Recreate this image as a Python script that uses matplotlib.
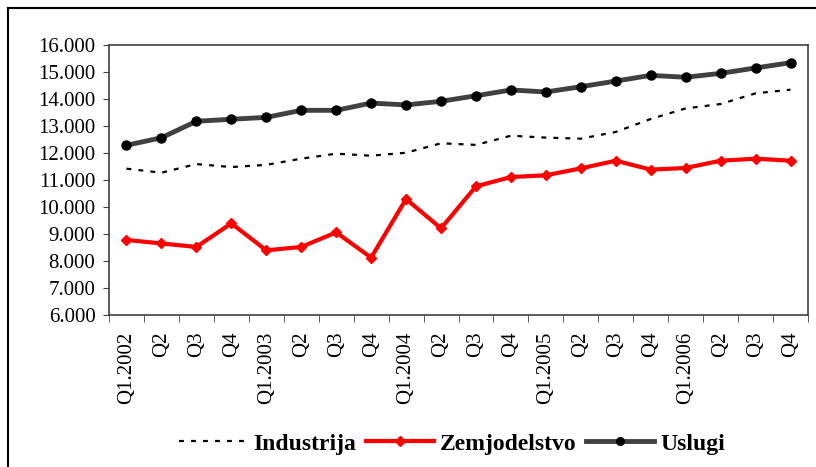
import numpy as np
import matplotlib
matplotlib.use("Agg")
import matplotlib.pyplot as plt
from matplotlib.lines import Line2D

quarters = ['Q1.2002', 'Q2', 'Q3', 'Q4',
            'Q1.2003', 'Q2', 'Q3', 'Q4',
            'Q1.2004', 'Q2', 'Q3', 'Q4',
            'Q1.2005', 'Q2', 'Q3', 'Q4',
            'Q1.2006', 'Q2', 'Q3', 'Q4']

industrija = [11420, 11270, 11590, 11480, 11560, 11790, 11975, 11900,
              12010, 12360, 12300, 12640, 12570, 12530, 12780, 13260,
              13650, 13815, 14210, 14345]
zemjodelstvo = [8780, 8650, 8520, 9395, 8395, 8520, 9060, 8125,
                10295, 9210, 10765, 11110, 11175, 11430, 11715, 11385,
                11445, 11715, 11790, 11715]
uslugi = [12285, 12565, 13175, 13250, 13320, 13580, 13580, 13850,
          13780, 13915, 14120, 14335, 14260, 14455, 14665, 14875,
          14805, 14950, 15150, 15345]

plt.rcParams['font.family'] = ['Liberation Serif', 'DejaVu Serif']

fig = plt.figure(figsize=(8.16, 4.67), dpi=100)
ax = fig.add_axes([109/816, 1-315/467, 699/816, 270/467])

x = np.arange(len(quarters))
ax.plot(x, industrija, color='black', lw=1.6, ls=(0, (2.2, 3.2)), label='Industrija')
ax.plot(x, zemjodelstvo, color='#ff0000', lw=3, marker='D', ms=5.5,
        mec='#ff0000', mfc='#ff0000', label='Zemjodelstvo')
ax.plot(x, uslugi, color='#404040', lw=3.5, marker='o', ms=6.5,
        mec='black', mfc='black', label='Uslugi')

ax.set_xlim(-0.5, len(quarters) - 0.5)
ax.set_ylim(6000, 16000)
yt = np.arange(6000, 16001, 1000)
ax.set_yticks(yt)
ax.set_yticklabels(['{:,.0f}'.format(v).replace(',', '.') for v in yt])
ax.set_xticks(x)
ax.set_xticklabels(quarters, rotation=90)
ax.set_xticks(np.arange(-0.5, len(quarters)), minor=True)
ax.tick_params(axis='x', which='major', length=0, pad=12, labelsize=15)
ax.tick_params(axis='x', which='minor', length=5, direction='out', color='#404040')
ax.tick_params(axis='y', length=4.3, direction='out', pad=5.5, labelsize=15, color='#404040')
for s in ax.spines.values():
    s.set_color('#404040')
    s.set_linewidth(1.2)

handles = [Line2D([], [], color='black', lw=1.6, ls=(0, (2.2, 3.2))),
           Line2D([], [], color='#ff0000', lw=3, marker='D', ms=5),
           Line2D([], [], color='#404040', lw=3.5, marker='o', ms=5.5, mfc='black', mec='black')]
fig.legend(handles, ['Industrija', 'Zemjodelstvo', 'Uslugi'], loc='center',
           bbox_to_anchor=(452/816, 1-444/467), ncol=3, frameon=False,
           handlelength=2.9, handletextpad=0.25, columnspacing=0.4,
           prop={'family': 'Liberation Serif', 'weight': 'bold', 'size': 17})

# outer frame (left and top edges visible)
fig.add_artist(Line2D([8/816, 8/816], [0, 1-8/467], color='black', lw=1.5,
                      transform=fig.transFigure))
fig.add_artist(Line2D([8/816, 1], [1-8/467, 1-8/467], color='black', lw=1.5,
                      transform=fig.transFigure))

fig.savefig('out.png', dpi=100)
